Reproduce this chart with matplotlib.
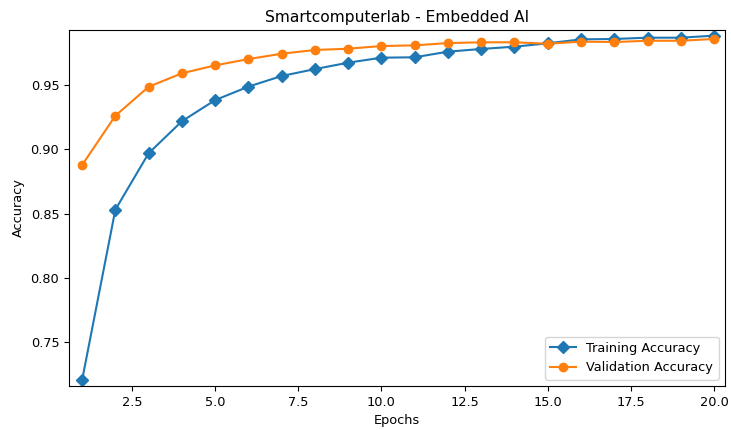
import matplotlib
matplotlib.use("Agg")
import matplotlib.pyplot as plt

epochs = list(range(1, 21))
train_acc = [0.720, 0.853, 0.897, 0.922, 0.9385, 0.949, 0.9573, 0.9627, 0.9677, 0.9716,
             0.9719, 0.9763, 0.9784, 0.9802, 0.9828, 0.9859, 0.9862, 0.9872, 0.9872, 0.9888]
val_acc = [0.8878, 0.9263, 0.9489, 0.9594, 0.9656, 0.9705, 0.9747, 0.9776, 0.9786, 0.9807,
           0.9812, 0.983, 0.9836, 0.9836, 0.9825, 0.9841, 0.9838, 0.9848, 0.9848, 0.9862]

plt.rcParams["font.size"] = 9.3

fig = plt.figure(figsize=(7.31, 4.30), dpi=100)
ax = fig.add_axes([69 / 731, 1 - 386 / 430, (725 - 69) / 731, (386 - 30) / 430])

ax.plot(epochs, train_acc, marker="D", label="Training Accuracy")  # blue diamonds
ax.plot(epochs, val_acc, marker="o", label="Validation Accuracy")  # orange circles

ax.set_xlim(0.606, 20.33)
ax.set_ylim(0.7154, 0.9932)
ax.set_title("Smartcomputerlab - Embedded AI")
ax.set_xlabel("Epochs")
ax.set_ylabel("Accuracy")
ax.legend(loc="lower right")

fig.savefig("out.png", dpi=100)
